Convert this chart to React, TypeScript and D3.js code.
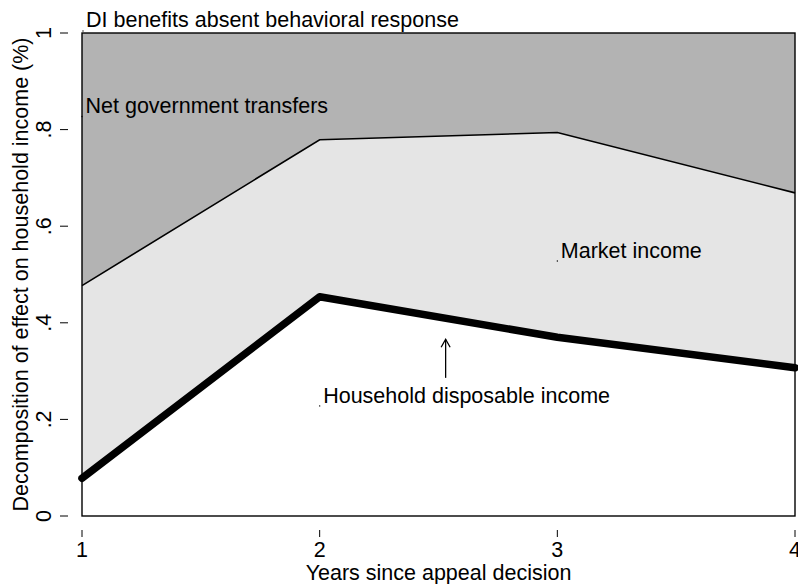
import React from 'react';
import * as d3 from 'd3';

// Years since appeal decision
const years = [1, 2, 3, 4];
// Household disposable income (bottom, thick line)
const disposableIncome = [0.078, 0.454, 0.37, 0.307];
// Disposable + market income (upper thin line)
const marketIncomeTop = [0.477, 0.779, 0.794, 0.669];

const yTicks = [0, 0.2, 0.4, 0.6, 0.8, 1];
const yTickLabels = ['0', '.2', '.4', '.6', '.8', '1'];
const xTicks = [1, 2, 3, 4];

const title = 'DI benefits absent behavioral response';
const xTitle = 'Years since appeal decision';
const yTitle = 'Decomposition of effect on household income (%)';

// area labels, anchored at data coordinates
const labels = [
  { text: 'Net government transfers', x: 1, y: 0.827 },
  { text: 'Market income', x: 3, y: 0.528 },
  { text: 'Household disposable income', x: 2, y: 0.228 },
];
const arrow = { x: 2.53, from: 0.286, to: 0.366 };

const W = 798;
const H = 584;
const margin = { top: 33, right: 3, bottom: 68, left: 82 };
const FONT = '"Liberation Sans", Arial, sans-serif';
const FS = 21.5;

export default function App() {
  const x = d3.scaleLinear().domain([1, 4]).range([margin.left, W - margin.right]);
  const y = d3.scaleLinear().domain([0, 1]).range([H - margin.bottom, margin.top]);

  const rows = years.map((yr, i) => ({ yr, low: disposableIncome[i], high: marketIncomeTop[i] }));
  type Row = (typeof rows)[number];

  const transfersArea = d3.area<Row>().x((d) => x(d.yr)).y0(y(1)).y1((d) => y(d.high))(rows) || '';
  const marketArea = d3.area<Row>().x((d) => x(d.yr)).y0((d) => y(d.high)).y1((d) => y(d.low))(rows) || '';
  const topLine = d3.line<Row>().x((d) => x(d.yr)).y((d) => y(d.high))(rows) || '';
  const lowLine = d3.line<Row>().x((d) => x(d.yr)).y((d) => y(d.low))(rows) || '';

  const x0 = x(1);
  const x1 = x(4);
  const y0 = y(0);
  const y1 = y(1);
  const ax = x(arrow.x);
  const aTop = y(arrow.to);

  return (
    <svg width={W} height={H} style={{ position: 'absolute', left: 0, top: 0, background: '#fff' }} fontFamily={FONT}>
      <path d={transfersArea} fill="#b3b3b3" />
      <path d={marketArea} fill="#e5e5e5" />
      <path d={topLine} fill="none" stroke="#000" strokeWidth={1.6} />
      <path d={lowLine} fill="none" stroke="#000" strokeWidth={7.5} strokeLinejoin="round" strokeLinecap="round" />
      <rect x={x0} y={y1} width={x1 - x0} height={y0 - y1} fill="none" stroke="#000" strokeWidth={1.4} />

      {/* y axis */}
      {yTicks.map((t, i) => (
        <g key={t}>
          <line x1={60} x2={68} y1={y(t)} y2={y(t)} stroke="#000" strokeWidth={1} />
          <text transform={`translate(51,${y(t)}) rotate(-90)`} textAnchor="middle" fontSize={FS}>
            {yTickLabels[i]}
          </text>
        </g>
      ))}
      <text transform={`translate(28,${(y0 + y1) / 2}) rotate(-90)`} textAnchor="middle" fontSize={FS}>
        {yTitle}
      </text>

      {/* x axis */}
      {xTicks.map((t) => (
        <g key={t}>
          <line x1={x(t)} x2={x(t)} y1={530} y2={537} stroke="#000" strokeWidth={1} />
          <text x={x(t)} y={557} textAnchor="middle" fontSize={FS}>
            {t}
          </text>
        </g>
      ))}
      <text x={(x0 + x1) / 2} y={580} textAnchor="middle" fontSize={FS}>
        {xTitle}
      </text>

      {/* title */}
      <circle cx={x0 + 1} cy={y1 - 2} r={0.7} fill="#000" />
      <text x={x0 + 4} y={27} fontSize={FS}>
        {title}
      </text>

      {/* area labels */}
      {labels.map((l) => (
        <g key={l.text}>
          <circle cx={x(l.x)} cy={y(l.y)} r={0.7} fill="#000" />
          <text x={x(l.x) + 3.5} y={y(l.y) - 3.3} fontSize={FS}>
            {l.text}
          </text>
        </g>
      ))}

      {/* arrow */}
      <line x1={ax} x2={ax} y1={y(arrow.from)} y2={aTop} stroke="#000" strokeWidth={1.3} />
      <path d={`M${ax - 4.5},${aTop + 8} L${ax},${aTop} L${ax + 4.5},${aTop + 8}`} fill="none" stroke="#000" strokeWidth={1.3} />
    </svg>
  );
}
